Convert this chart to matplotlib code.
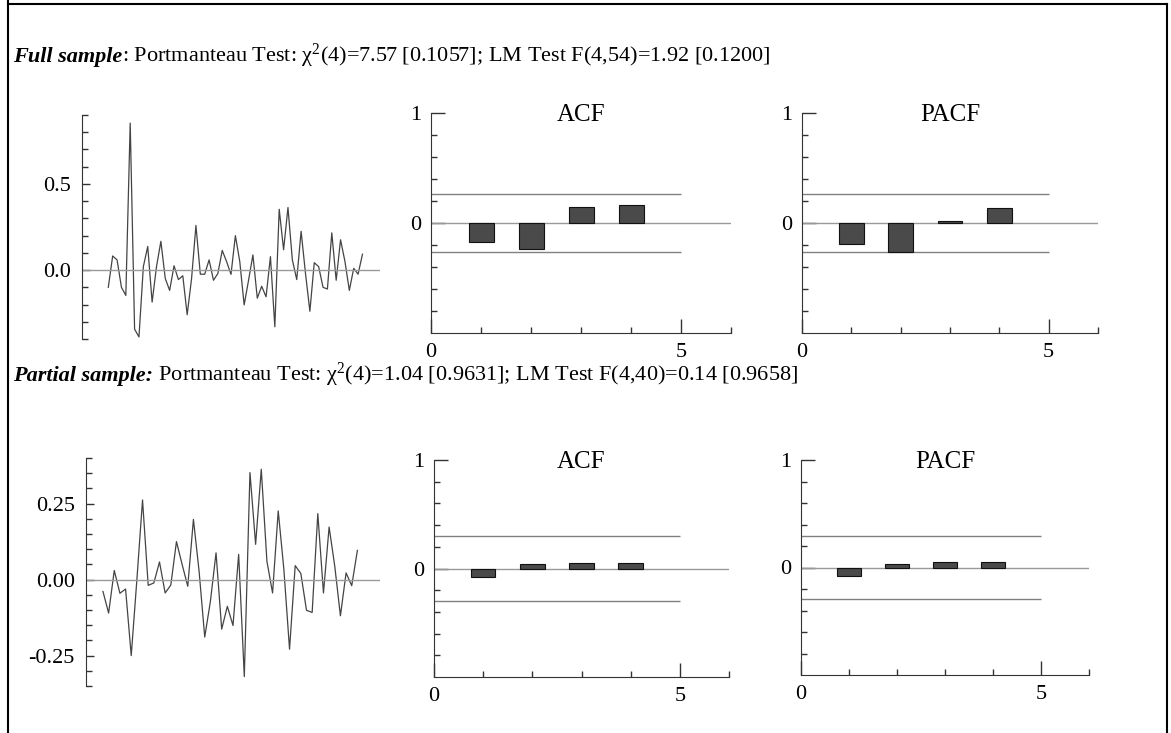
import numpy as np
import matplotlib
matplotlib.use("Agg")
import matplotlib.pyplot as plt
from matplotlib.lines import Line2D

plt.rcParams['font.family'] = ['Liberation Serif', 'DejaVu Serif']
plt.rcParams['mathtext.fontset'] = 'custom'
plt.rcParams['mathtext.rm'] = 'Liberation Serif'
plt.rcParams['mathtext.it'] = 'Liberation Serif:italic'

# residual series
full_resid = [-0.10, 0.082, 0.059, -0.10, -0.147, 0.853, -0.343, -0.388, 0.02, 0.137,
              -0.186, 0.02, 0.167, -0.049, -0.118, 0.025, -0.055, -0.033, -0.259, -0.05,
              0.259, -0.024, -0.024, 0.059, -0.059, -0.02, 0.114, 0.049, -0.025, 0.20,
              0.05, -0.202, -0.06, 0.088, -0.163, -0.094, -0.155, 0.078, -0.329, 0.353,
              0.118, 0.363, 0.059, -0.055, 0.225, -0.02, -0.239, 0.043, 0.02, -0.10,
              -0.11, 0.216, -0.059, 0.176, 0.05, -0.118, 0.01, -0.024, 0.092]
part_resid = [-0.039, -0.11, 0.03, -0.045, -0.031, -0.25, 0.0, 0.262, -0.019, -0.011,
              0.058, -0.044, -0.018, 0.125, 0.05, -0.022, 0.198, 0.028, -0.189, -0.072,
              0.088, -0.163, -0.088, -0.151, 0.083, -0.319, 0.352, 0.116, 0.363, 0.06,
              -0.044, 0.226, 0.033, -0.229, 0.046, 0.02, -0.101, -0.108, 0.217, -0.044,
              0.173, 0.044, -0.119, 0.022, -0.02, 0.096]

lags = [1, 2, 3, 4]
full_acf = [-0.177, -0.233, 0.142, 0.16]
full_pacf = [-0.19, -0.265, 0.02, 0.137]
part_acf = [-0.077, 0.037, 0.055, 0.055]
part_pacf = [-0.077, 0.037, 0.055, 0.055]
full_band = 0.26
part_band = 0.295

full_title = ("Full sample", ": Portmanteau Test: \u03c7$^{2}$(4)=7.57 [0.1057]; LM Test F(4,54)=1.92 [0.1200]")
part_title = ("Partial sample:", " Portmanteau Test: \u03c7$^{2}$(4)=1.04 [0.9631]; LM Test F(4,40)=0.14 [0.9658]")

W, H = 1171, 733
fig = plt.figure(figsize=(W / 100, H / 100), dpi=100)

AX_COL = '#333333'
TICK_FS = 16


def add_ax(left, top, right, bottom):
    return fig.add_axes([left / W, 1 - bottom / H, (right - left) / W, (bottom - top) / H])


def series_panel(ax, y, ylim, major, minor, fmt, xlim):
    x = np.arange(len(y))
    ax.plot(x, y, color='#444444', lw=0.9)
    ax.axhline(0, color='#999999', lw=1.0)
    ax.set_xlim(*xlim)
    ax.set_ylim(*ylim)
    for s in ['top', 'right', 'bottom']:
        ax.spines[s].set_visible(False)
    ax.spines['left'].set_color(AX_COL)
    ax.set_xticks([])
    ax.set_yticks(major)
    ax.set_yticklabels([fmt.format(v) for v in major])
    ax.set_yticks(minor, minor=True)
    ax.tick_params(axis='y', which='major', direction='in', length=6, width=1,
                   color=AX_COL, labelsize=TICK_FS, pad=8)
    ax.tick_params(axis='y', which='minor', direction='in', length=4, width=1, color=AX_COL)


def corr_panel(ax, vals, band, title):
    ax.bar(lags, vals, width=0.5, color='#4a4a4a', edgecolor='#111111', lw=0.8, zorder=3)
    ax.axhline(0, color='#999999', lw=1.0, zorder=2)
    ax.hlines([band, -band], 0, 5, color='#808080', lw=1.0, zorder=2)
    ax.set_xlim(0, 6)
    ax.set_ylim(-1, 1)
    for s in ['top', 'right']:
        ax.spines[s].set_visible(False)
    for s in ['left', 'bottom']:
        ax.spines[s].set_color(AX_COL)
    ax.set_yticks([0, 1])
    ax.set_yticklabels(['0', '1'])
    ax.set_yticks(np.arange(-0.8, 1.0, 0.2), minor=True)
    ax.set_xticks([0, 5])
    ax.set_xticklabels(['0', '5'])
    ax.set_xticks([1, 2, 3, 4, 6], minor=True)
    ax.tick_params(which='major', direction='in', length=10, width=1, color=AX_COL,
                   labelsize=TICK_FS, pad=7)
    ax.tick_params(which='minor', direction='in', length=4, width=1, color=AX_COL)
    ax.text(0.5, 0.962, title, transform=ax.transAxes, ha='center', va='baseline',
            fontsize=18)


# full sample
ax1 = add_ax(82, 115, 380, 339)
series_panel(ax1, full_resid, (-0.4, 0.9), [0.0, 0.5],
             np.arange(-0.4, 0.91, 0.1), '{:.1f}', (-6, 62))
ax2 = add_ax(431, 113, 731, 333)
corr_panel(ax2, full_acf, full_band, 'ACF')
ax3 = add_ax(802, 113, 1098, 333)
corr_panel(ax3, full_pacf, full_band, 'PACF')

# partial sample
ax4 = add_ax(86, 458, 380, 686)
series_panel(ax4, part_resid, (-0.35, 0.40), [-0.25, 0.0, 0.25],
             np.arange(-0.35, 0.401, 0.05), '{:.2f}', (-3, 49))
ax5 = add_ax(434, 460, 729, 677)
corr_panel(ax5, part_acf, part_band, 'ACF')
ax6 = add_ax(801, 460, 1089, 675)
corr_panel(ax6, part_pacf, part_band, 'PACF')

# headings: bold italic part followed by regular text
TITLE_FS = 16
fig.canvas.draw()
renderer = fig.canvas.get_renderer()
for (bold, rest), ybase in [(full_title, 62), (part_title, 381)]:
    t1 = fig.text(13 / W, 1 - ybase / H, bold, fontsize=TITLE_FS, fontweight='bold',
                  fontstyle='italic', va='baseline', ha='left')
    bb = t1.get_window_extent(renderer)
    fig.text(bb.x1 / W, 1 - ybase / H, rest, fontsize=TITLE_FS, va='baseline', ha='left')

# outer frame
for xs, ys in [([8, 8], [0, 733]), ([8, 1167], [4, 4]), ([1167, 1167], [4, 733])]:
    fig.add_artist(Line2D([x / W for x in xs], [1 - y / H for y in ys], color='black',
                          lw=1.5, transform=fig.transFigure))

fig.savefig('out.png', dpi=100)
